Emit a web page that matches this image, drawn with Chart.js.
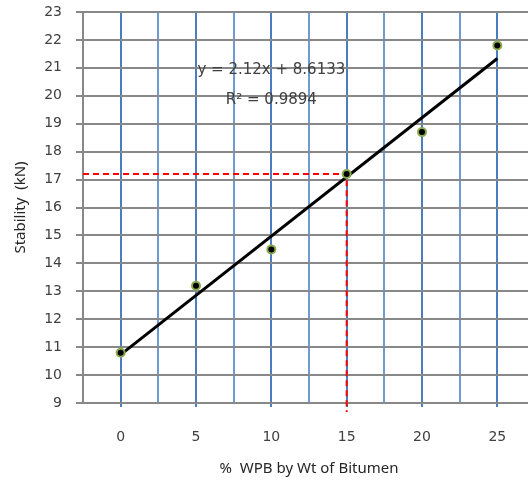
<!DOCTYPE html>
<html>
<head>
<meta charset="utf-8">
<script src="https://cdn.jsdelivr.net/npm/chart.js@4/dist/chart.umd.min.js"></script>
<style>
  html, body { margin: 0; padding: 0; background: #fff; overflow: hidden; }
  #wrap { width: 551px; height: 484px; }
</style>
</head>
<body>
<div id="wrap"><canvas id="myChart" width="551" height="484"></canvas></div>
<script>
// data
const wpb = [0, 5, 10, 15, 20, 25];
const stability = [10.8, 13.2, 14.5, 17.2, 18.7, 21.8];
const xTicks = [0, 5, 10, 15, 20, 25];
// excel trendline (x counted 1..6 in the sheet)
const slope = 2.12;
const intercept = 8.6133;
const rSquared = 0.9894;
// dashed read-off at 15 %
const readX = 15;
const readY = 17.2;

const FONT = "'DejaVu Sans', sans-serif";
const TFONT = "'Noto Sans', sans-serif";
const TXT = '#404040';

const trend = [wpb[0], wpb[wpb.length - 1]].map(x => ({ x: x, y: intercept + slope * (x / 5 + 1) }));

const eqPlugin = {
    id: 'eq',
    afterDatasetsDraw(chart) {
        const ctx = chart.ctx;
        const xs = chart.scales.x, ys = chart.scales.y;
        ctx.save();
        ctx.fillStyle = TXT;
        ctx.font = '15px ' + FONT;
        ctx.textAlign = 'center';
        ctx.textBaseline = 'middle';
        ctx.fillText('y = ' + slope + 'x + ' + intercept, xs.getPixelForValue(10), ys.getPixelForValue(20.92));
        ctx.fillText('R² = ' + rSquared, xs.getPixelForValue(10), ys.getPixelForValue(19.85));
        ctx.restore();
    }
};

new Chart(document.getElementById('myChart').getContext('2d'), {
    type: 'scatter',
    data: {
        datasets: [
            {
                label: 'read',
                data: [{ x: -2.5, y: readY }, { x: readX, y: readY }, { x: readX, y: 8.68 }],
                showLine: true,
                borderColor: '#ff0000',
                borderWidth: 2,
                borderDash: [6, 4],
                pointRadius: 0,
                clip: false,
                order: 1
            },
            {
                label: 'trend',
                data: trend,
                showLine: true,
                borderColor: '#000',
                borderWidth: 3,
                pointRadius: 0,
                order: 2
            },
            {
                label: 'Stability',
                data: wpb.map((x, i) => ({ x: x, y: stability[i] })),
                pointRadius: 4,
                pointBackgroundColor: '#000',
                pointBorderColor: '#8aaa4e',
                pointBorderWidth: 2,
                order: 0
            }
        ]
    },
    options: {
        responsive: false,
        animation: false,
        layout: { padding: { top: 12, right: 16, left: 0, bottom: 0 } },
        plugins: { legend: { display: false }, tooltip: { enabled: false } },
        scales: {
            x: {
                type: 'linear',
                min: -2.5,
                max: 27.5,
                afterBuildTicks: s => { s.ticks = []; for (let v = -2.5; v <= 27.5; v += 2.5) s.ticks.push({ value: v }); },
                afterFit: s => { s.height = 81; s.paddingLeft = 0; s.paddingRight = 0; },
                ticks: {
                    autoSkip: false,
                    maxRotation: 0,
                    color: TXT,
                    font: { family: FONT, size: 14 },
                    padding: 22,
                    callback: v => xTicks.includes(v) ? String(v) : ''
                },
                grid: {
                    color: c => xTicks.includes(c.tick && c.tick.value) ? '#4a7ebf' : '#6e9bd3',
                    lineWidth: 2,
                    tickLength: 4,
                    tickColor: c => xTicks.includes(c.tick && c.tick.value) ? '#4a7ebf' : 'rgba(0,0,0,0)'
                },
                border: { color: '#888888', width: 2 },
                title: {
                    display: true,
                    text: '%  WPB by Wt of Bitumen',
                    color: '#262626',
                    font: { family: TFONT, size: 15 },
                    padding: { top: 0, bottom: 6 }
                }
            },
            y: {
                min: 9,
                max: 23,
                afterFit: s => { s.width = 83; s.paddingTop = 0; s.paddingBottom = 0; },
                ticks: {
                    stepSize: 1,
                    color: TXT,
                    font: { family: FONT, size: 14 },
                    padding: 14
                },
                grid: {
                    color: '#888888',
                    lineWidth: 2,
                    tickLength: 7
                },
                border: { color: '#888888', width: 2 },
                title: {
                    display: true,
                    text: 'Stability  (kN)',
                    color: '#262626',
                    font: { family: TFONT, size: 15 },
                    padding: { top: 12, bottom: 0 }
                }
            }
        }
    },
    plugins: [eqPlugin]
});
</script>
</body>
</html>
